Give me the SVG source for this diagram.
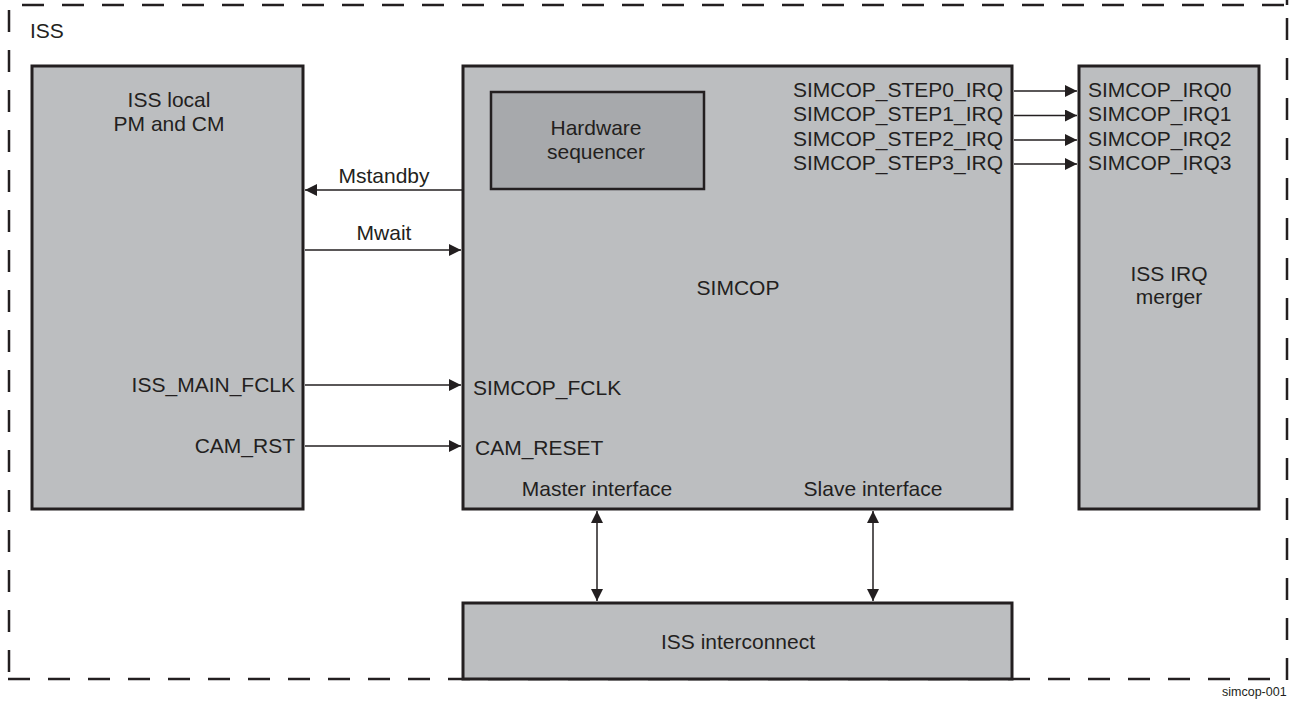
<svg xmlns="http://www.w3.org/2000/svg" width="1289" height="704" viewBox="0 0 1289 704">
<style>
.box{fill:#bcbec0;stroke:#231f20;stroke-width:3}
.dark{fill:#a7a9ac;stroke:#231f20;stroke-width:2.5}
.frame{stroke:#231f20;stroke-width:2.5;fill:none;stroke-dasharray:22 18}
text{font-family:"Liberation Sans",Arial,sans-serif;font-size:21px;fill:#231f20}
.c{text-anchor:middle}
.r{text-anchor:end}
.ln{stroke:#231f20;stroke-width:1.5;fill:none}
</style>
<defs>
<marker id="ah" viewBox="0 0 12 12" refX="12" refY="6" markerWidth="12" markerHeight="12" markerUnits="userSpaceOnUse" orient="auto-start-reverse">
<path d="M0,0 L12,6 L0,12 z" fill="#231f20"/>
</marker>
</defs>
<rect width="1289" height="704" fill="#ffffff"/>
<g id="iss-frame">
<line class="frame" x1="22" y1="5" x2="1287" y2="5"/>
<line class="frame" x1="8" y1="679" x2="1287" y2="679"/>
<line class="frame" x1="9" y1="10" x2="9" y2="679"/>
<line class="frame" x1="1287" y1="18" x2="1287" y2="680"/>
<line class="frame" x1="1287" y1="5" x2="1287" y2="0" style="stroke-dasharray:none"/>
<text x="30" y="38">ISS</text>
</g>
<g id="pmcm">
<rect class="box" x="32" y="66" width="271" height="443"/>
<text class="c" x="169" y="107">ISS local</text>
<text class="c" x="169" y="131">PM and CM</text>
<text class="r" x="295" y="392">ISS_MAIN_FCLK</text>
<text class="r" x="295" y="453">CAM_RST</text>
</g>
<g id="simcop">
<rect class="box" x="463" y="66" width="549" height="443"/>
<text class="c" x="738" y="295">SIMCOP</text>
<text x="473" y="395">SIMCOP_FCLK</text>
<text x="475" y="455">CAM_RESET</text>
<text class="c" x="597" y="496">Master interface</text>
<text class="c" x="873" y="496">Slave interface</text>
<text class="r" x="1003" y="97">SIMCOP_STEP0_IRQ</text>
<text class="r" x="1003" y="121">SIMCOP_STEP1_IRQ</text>
<text class="r" x="1003" y="146">SIMCOP_STEP2_IRQ</text>
<text class="r" x="1003" y="170">SIMCOP_STEP3_IRQ</text>
</g>
<g id="hwseq">
<rect class="dark" x="491" y="92" width="213" height="97"/>
<text class="c" x="596" y="135">Hardware</text>
<text class="c" x="596" y="159">sequencer</text>
</g>
<g id="irqmerger">
<rect class="box" x="1079" y="66" width="180" height="443"/>
<text x="1088" y="97">SIMCOP_IRQ0</text>
<text x="1088" y="121">SIMCOP_IRQ1</text>
<text x="1088" y="146">SIMCOP_IRQ2</text>
<text x="1088" y="170">SIMCOP_IRQ3</text>
<text class="c" x="1169" y="281">ISS IRQ</text>
<text class="c" x="1169" y="304">merger</text>
</g>
<g id="interconnect">
<rect class="box" x="463" y="603" width="549" height="76"/>
<text class="c" x="738" y="649">ISS interconnect</text>
</g>
<g id="connectors">
<line class="ln" x1="462" y1="190" x2="305" y2="190" marker-end="url(#ah)"/>
<text class="c" x="384" y="183">Mstandby</text>
<line class="ln" x1="305" y1="250" x2="461" y2="250" marker-end="url(#ah)"/>
<text class="c" x="384" y="240">Mwait</text>
<line class="ln" x1="305" y1="385" x2="461" y2="385" marker-end="url(#ah)"/>
<line class="ln" x1="305" y1="446" x2="461" y2="446" marker-end="url(#ah)"/>
<line class="ln" x1="1014" y1="91" x2="1077" y2="91" marker-end="url(#ah)"/>
<line class="ln" x1="1014" y1="115.5" x2="1077" y2="115.5" marker-end="url(#ah)"/>
<line class="ln" x1="1014" y1="140" x2="1077" y2="140" marker-end="url(#ah)"/>
<line class="ln" x1="1014" y1="164" x2="1077" y2="164" marker-end="url(#ah)"/>
<line class="ln" x1="597" y1="511" x2="597" y2="601" marker-start="url(#ah)" marker-end="url(#ah)"/>
<line class="ln" x1="873" y1="511" x2="873" y2="601" marker-start="url(#ah)" marker-end="url(#ah)"/>
</g>
<text x="1222" y="696" style="font-size:12.5px">simcop-001</text>
</svg>
